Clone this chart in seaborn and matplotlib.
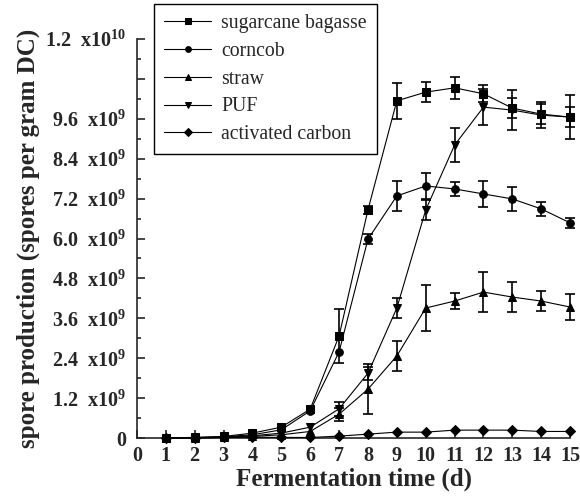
import numpy as np
import pandas as pd
import seaborn as sns
import matplotlib.pyplot as plt

days = list(range(1, 16))

# spore counts, units of 1e9 spores per gram DC
bagasse = [0.01, 0.02, 0.05, 0.15, 0.33, 0.87, 3.07, 6.86, 10.14, 10.40, 10.53, 10.35, 9.92, 9.74, 9.65]
corncob = [0.01, 0.02, 0.04, 0.10, 0.25, 0.82, 2.59, 5.98, 7.28, 7.58, 7.49, 7.34, 7.19, 6.89, 6.47]
straw = [0.00, 0.01, 0.02, 0.05, 0.10, 0.20, 0.72, 1.47, 2.47, 3.91, 4.12, 4.39, 4.24, 4.12, 3.94]
puf = [0.00, 0.01, 0.03, 0.07, 0.15, 0.33, 0.88, 1.95, 3.91, 6.86, 8.81, 9.95, 9.86, 9.71, 9.65]
carbon = [0.00, 0.00, 0.02, 0.03, 0.02, 0.02, 0.06, 0.12, 0.18, 0.18, 0.24, 0.24, 0.24, 0.20, 0.20]

bagasse_err = [0, 0, 0, 0, 0, 0, 0.80, 0.12, 0.55, 0.30, 0.33, 0.25, 0.30, 0.30, 0.30]
corncob_err = [0, 0, 0, 0, 0, 0, 0, 0.15, 0.45, 0.40, 0.20, 0.40, 0.35, 0.20, 0.15]
straw_err = [0, 0, 0, 0, 0, 0, 0.20, 0.75, 0.45, 0.70, 0.25, 0.60, 0.45, 0.30, 0.38]
puf_err = [0, 0, 0, 0, 0, 0, 0.20, 0.20, 0.30, 0.30, 0.50, 0.55, 0.60, 0.40, 0.65]
carbon_err = [0] * 15

names = ["sugarcane bagasse", "corncob", "straw", "PUF", "activated carbon"]
markers = {"sugarcane bagasse": "s", "corncob": "o", "straw": "^", "PUF": "v", "activated carbon": "D"}

y_ticks = [0, 1.2, 2.4, 3.6, 4.8, 6.0, 7.2, 8.4, 9.6, 10.8, 12.0]
y_labels = ["0", "1.2  x10$^{9}$", "2.4  x10$^{9}$", "3.6  x10$^{9}$", "4.8  x10$^{9}$",
            "6.0  x10$^{9}$", "7.2  x10$^{9}$", "8.4  x10$^{9}$", "9.6  x10$^{9}$", "",
            "1.2  x10$^{10}$"]

series = [bagasse, corncob, straw, puf, carbon]
errs = [bagasse_err, corncob_err, straw_err, puf_err, carbon_err]
df = pd.concat([pd.DataFrame({"day": days, "spores": s, "err": e, "substrate": n})
                for n, s, e in zip(names, series, errs)], ignore_index=True)

sns.set_style("ticks")
plt.rcParams['font.family'] = ['Liberation Serif', 'DejaVu Serif']
plt.rcParams['mathtext.fontset'] = 'custom'
plt.rcParams['mathtext.rm'] = 'Liberation Serif:bold'
plt.rcParams['mathtext.it'] = 'Liberation Serif:bold'
plt.rcParams['mathtext.bf'] = 'Liberation Serif:bold'

fig = plt.figure(figsize=(5.8, 4.99), dpi=100)
ax = fig.add_axes([0.236, 0.122, 0.747, 0.8])

sns.lineplot(data=df, x="day", y="spores", hue="substrate", style="substrate",
             hue_order=names, style_order=names, palette=["black"] * 5,
             markers=markers, dashes=False, markersize=5.5, linewidth=0.8,
             markeredgecolor="black", ax=ax, clip_on=False, zorder=3)

for n in names:
    sub = df[(df.substrate == n) & (df.err > 0)]
    ax.errorbar(sub.day, sub.spores, yerr=sub.err, fmt="none", ecolor="black",
                elinewidth=1.2, capsize=3.5, capthick=1.2, clip_on=False, zorder=2)

ax.set_xlim(0, 15)
ax.set_ylim(0, 12)
ax.set_xticks(range(16))
ax.set_yticks(y_ticks)
ax.set_yticklabels(y_labels)
ax.set_yticks(np.arange(0.6, 12, 1.2), minor=True)
ax.tick_params(axis="both", direction="in", length=6, width=1.2, labelsize=14.5)
ax.tick_params(axis="x", pad=6)
ax.tick_params(axis="y", pad=8)
ax.tick_params(axis="y", which="minor", direction="in", length=3, width=1.2)
for lab in ax.get_xticklabels() + ax.get_yticklabels():
    lab.set_fontweight("bold")
sns.despine(ax=ax)
ax.spines["left"].set_linewidth(1.2)
ax.spines["bottom"].set_linewidth(1.2)

ax.set_xlabel("Fermentation time (d)", fontsize=18, fontweight="bold", labelpad=1)
ax.set_ylabel("spore production (spores per gram DC)", fontsize=18, fontweight="bold", labelpad=3)

handles, labels = ax.get_legend_handles_labels()
leg = ax.legend(handles, labels, loc="upper left", bbox_to_anchor=(0.266, 0.992),
                bbox_transform=fig.transFigure, fontsize=14.2, frameon=True, fancybox=False,
                edgecolor="black", framealpha=1, handlelength=2.4, labelspacing=0.45,
                markerscale=0.75, borderaxespad=0, borderpad=0.5, handletextpad=0.5)
leg.get_frame().set_linewidth(1.0)

fig.savefig("out.png", dpi=100)
